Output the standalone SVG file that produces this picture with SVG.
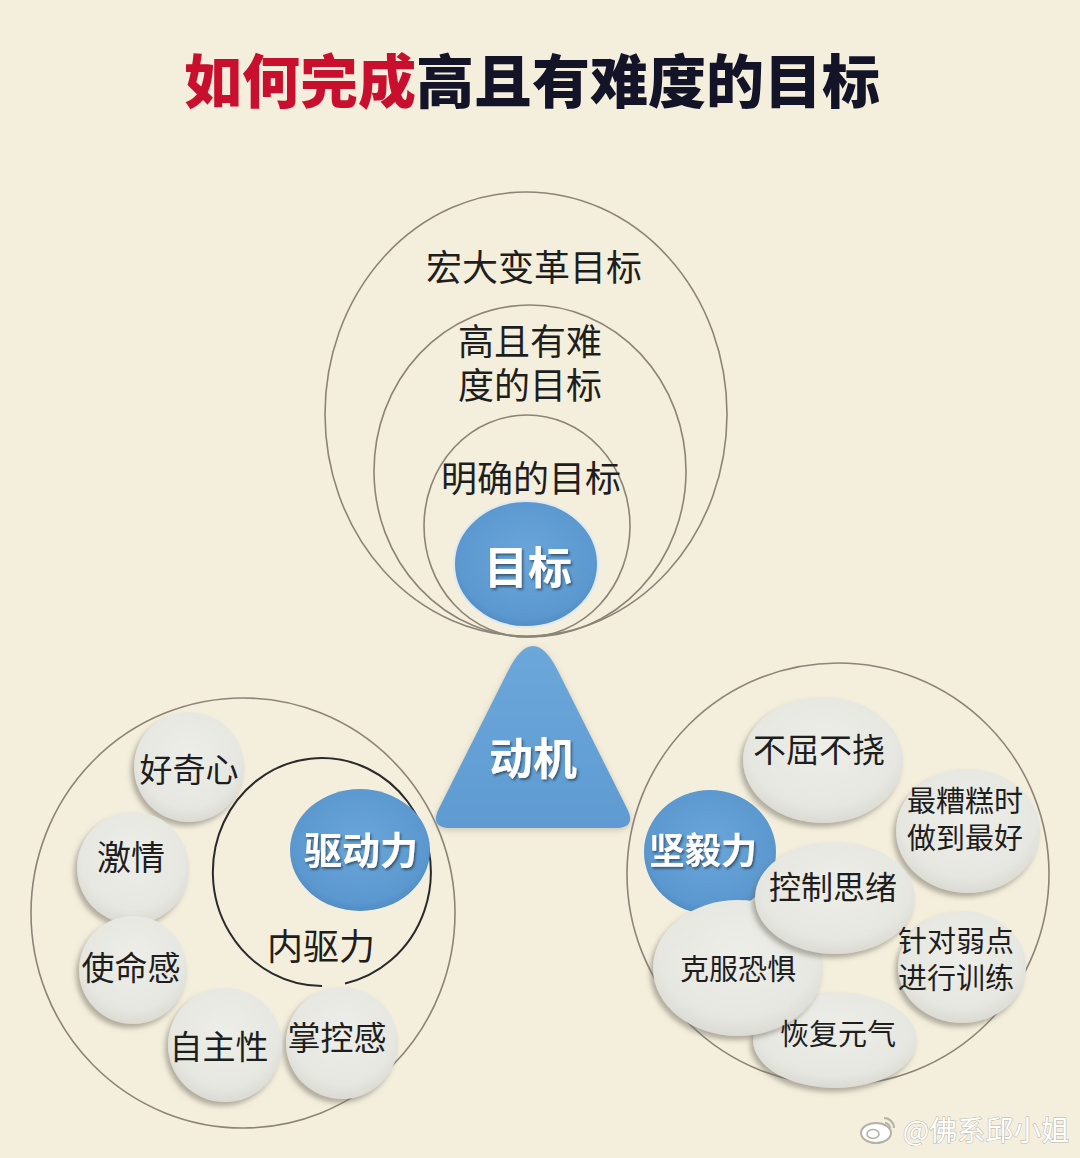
<svg xmlns="http://www.w3.org/2000/svg" width="1080" height="1158" viewBox="0 0 1080 1158">
<style>
text{font-family:"Noto Sans CJK SC","Noto Sans",sans-serif;text-anchor:middle}
.lbl{fill:#1e1e1e;font-weight:400}
.wht{fill:#fff;font-weight:700}
.ring{fill:none;stroke:#8c8478;stroke-width:1.6}
.bub{fill:url(#bubg);filter:url(#bsh)}
.blue{fill:url(#blug)}
</style>
<defs>
<radialGradient id="bubg" cx="50%" cy="40%" r="62%">
<stop offset="0" stop-color="#eeeee9"/>
<stop offset="0.75" stop-color="#e7e7e1"/>
<stop offset="1" stop-color="#d9d9d2"/>
</radialGradient>
<radialGradient id="blug" cx="50%" cy="45%" r="60%">
<stop offset="0" stop-color="#6aa6da"/>
<stop offset="0.8" stop-color="#5b98cf"/>
<stop offset="1" stop-color="#4b84ba"/>
</radialGradient>
<linearGradient id="trig" x1="0" y1="0" x2="0" y2="1">
<stop offset="0" stop-color="#6ca7da"/>
<stop offset="1" stop-color="#5e9bd2"/>
</linearGradient>
<filter id="bsh" x="-20%" y="-20%" width="140%" height="150%">
<feDropShadow dx="-3" dy="4" stdDeviation="2.5" flood-color="#6d6a60" flood-opacity="0.5"/>
</filter>
<filter id="tsh" x="-10%" y="-10%" width="120%" height="130%">
<feDropShadow dx="1.5" dy="2" stdDeviation="1" flood-color="#2a3a4a" flood-opacity="0.7"/>
</filter>
<filter id="soft" x="-10%" y="-10%" width="120%" height="120%">
<feDropShadow dx="0" dy="2" stdDeviation="3" flood-color="#8a8470" flood-opacity="0.4"/>
</filter>
</defs>
<rect width="1080" height="1158" fill="#f4eedc"/>

<g id="title">
<text x="532" y="103" font-size="58" font-weight="900"><tspan fill="#c8102e">如何完成</tspan><tspan fill="#141428">高且有难度的目标</tspan></text>
</g>

<g id="goal-rings">
<ellipse class="ring" cx="526" cy="414" rx="201" ry="222"/>
<ellipse class="ring" cx="530" cy="471" rx="156" ry="166"/>
<ellipse class="ring" cx="527" cy="526" rx="103" ry="111"/>
<text class="lbl" x="534" y="281" font-size="36">宏大变革目标</text>
<text class="lbl" font-size="36"><tspan x="530" y="355">高且有难</tspan><tspan x="530" y="399">度的目标</tspan></text>
<text class="lbl" x="531" y="492" font-size="36">明确的目标</text>
</g>

<g id="node-goal">
<ellipse class="blue" cx="526" cy="564" rx="72" ry="63" stroke="#dfe9ef" stroke-width="2"/>
<text class="wht" x="528" y="584" font-size="44" filter="url(#tsh)">目标</text>
</g>

<g id="node-motive">
<path d="M508,671 L438.9,808.4 Q429,828 451,828 L615,828 Q637,828 627.1,808.4 L558,671 Q533,621 508,671 Z" fill="url(#trig)" filter="url(#soft)"/>
<text class="wht" x="533" y="775" font-size="44" filter="url(#tsh)">动机</text>
</g>

<g id="drive-group">
<ellipse class="ring" cx="243" cy="913" rx="212" ry="215"/>
<g id="node-curiosity"><circle class="bub" cx="189" cy="767" r="55"/></g>
<g id="node-passion"><circle class="bub" cx="133" cy="868" r="56"/></g>
<g id="node-mission"><circle class="bub" cx="133" cy="970" r="54"/></g>
<g id="node-mastery"><circle class="bub" cx="342" cy="1043" r="56"/></g>
<g id="node-autonomy"><circle class="bub" cx="225" cy="1045" r="57"/></g>
<path d="M345,983.4 A109 114 0 1 0 322,986" fill="none" stroke="#2a2a2a" stroke-width="2"/>
<g id="node-drive"><ellipse class="blue" cx="360" cy="850" rx="70" ry="61"/></g>
<text class="wht" x="361" y="864" font-size="38" filter="url(#tsh)">驱动力</text>
<text class="lbl" x="321" y="960" font-size="36">内驱力</text>
<text class="lbl" x="189" y="782" font-size="33">好奇心</text>
<text class="lbl" x="131" y="870" font-size="34">激情</text>
<text class="lbl" x="131" y="980" font-size="33">使命感</text>
<text class="lbl" x="219" y="1059" font-size="33">自主性</text>
<text class="lbl" x="337" y="1050" font-size="33">掌控感</text>
</g>

<g id="grit-group">
<circle class="ring" cx="838" cy="874" r="211"/>
<g id="node-grit"><ellipse class="blue" cx="710" cy="852" rx="66" ry="62"/></g>
<g id="node-persist"><ellipse class="bub" cx="823" cy="760" rx="80" ry="63"/></g>
<g id="node-best"><ellipse class="bub" cx="968" cy="831" rx="72" ry="62"/></g>
<g id="node-train"><ellipse class="bub" cx="962" cy="967" rx="64" ry="56"/></g>
<g id="node-recover"><ellipse class="bub" cx="835" cy="1040" rx="82" ry="48"/></g>
<g id="node-fear"><ellipse class="bub" cx="738" cy="968" rx="85" ry="68"/></g>
<g id="node-control"><ellipse class="bub" cx="835" cy="898" rx="80" ry="56"/></g>
<text class="wht" x="703" y="864" font-size="36" filter="url(#tsh)">坚毅力</text>
<text class="lbl" x="819" y="762" font-size="33">不屈不挠</text>
<text class="lbl" font-size="29"><tspan x="965" y="812">最糟糕时</tspan><tspan x="965" y="849">做到最好</tspan></text>
<text class="lbl" x="833" y="899" font-size="32">控制思绪</text>
<text class="lbl" font-size="29"><tspan x="956" y="952">针对弱点</tspan><tspan x="956" y="989">进行训练</tspan></text>
<text class="lbl" x="738" y="980" font-size="29">克服恐惧</text>
<text class="lbl" x="838" y="1045" font-size="29">恢复元气</text>
</g>

<g id="connectors"></g>

<g id="watermark">
<ellipse cx="876" cy="1133" rx="15" ry="10" fill="#fff" stroke="#b5b1a6" stroke-width="2"/>
<ellipse cx="873" cy="1134" rx="6" ry="4.5" fill="none" stroke="#b5b1a6" stroke-width="1.6"/>
<path d="M884,1118 A10 10 0 0 1 894,1128 M885,1123 A5 5 0 0 1 890,1128" fill="none" stroke="#b5b1a6" stroke-width="2"/>
<text x="986" y="1141" font-size="28" fill="#fff" stroke="#b5b1a6" stroke-width="1" paint-order="stroke">@佛系邱小姐</text>
</g>
</svg>
